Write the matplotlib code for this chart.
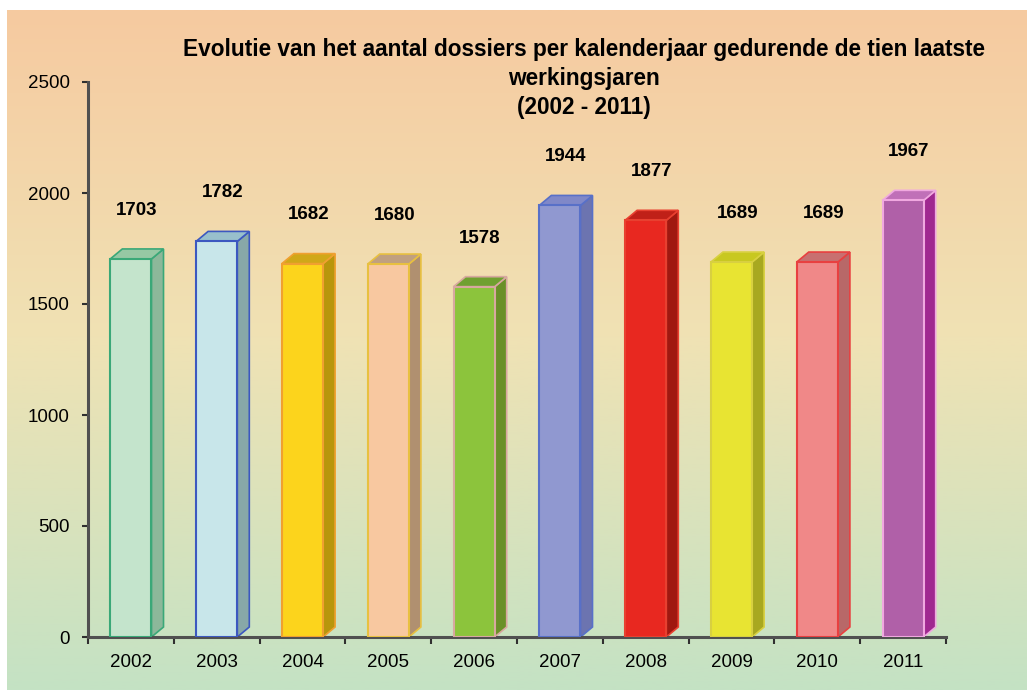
import numpy as np
import matplotlib.pyplot as plt
from matplotlib.patches import Polygon
from matplotlib.colors import LinearSegmentedColormap

plt.rcParams['font.family'] = ['Liberation Sans', 'DejaVu Sans']

# data
years = ['2002', '2003', '2004', '2005', '2006', '2007', '2008', '2009', '2010', '2011']
dossiers = [1703, 1782, 1682, 1680, 1578, 1944, 1877, 1689, 1689, 1967]

title = ('Evolutie van het aantal dossiers per kalenderjaar gedurende de tien laatste\n'
         'werkingsjaren\n(2002 - 2011)')

# colours per bar: front, side, top, edge
front_cols = ['#c4e4cc', '#c8e6ea', '#fcd41c', '#f8c8a0', '#8cc43c',
              '#9098d0', '#e82820', '#e8e432', '#f08888', '#b060a8']
side_cols = ['#8cb89a', '#88a8a8', '#b8960c', '#b09070', '#6a9028',
             '#6c74b0', '#a01810', '#a8a820', '#b86868', '#a02890']
top_cols = ['#96c8a4', '#98c0cc', '#d0a818', '#c0a080', '#70a030',
            '#8088c8', '#c02018', '#c8c820', '#c87070', '#c070b8']
edge_cols = ['#3aa878', '#3c58c0', '#f0a030', '#e8c040', '#d8a8a0',
             '#5870c8', '#e84030', '#d8d040', '#e84040', '#f0a8e0']

fig = plt.figure(figsize=(10.27, 6.9), dpi=100)

# gradient background panel
bg = fig.add_axes([7 / 1027, 0, 1020 / 1027, 680 / 690], zorder=-1)
cmap = LinearSegmentedColormap.from_list(
    'bg', [(0.0, '#c4e2c4'), (0.52, '#f0e2b4'), (1.0, '#f6caa0')])
grad = np.linspace(0, 1, 256).reshape(-1, 1)
bg.imshow(grad, aspect='auto', cmap=cmap, origin='lower', extent=[0, 1, 0, 1])
bg.axis('off')

ax = fig.add_axes([88 / 1027, 53 / 690, 858 / 1027, 555 / 690])
ax.patch.set_alpha(0)

x = np.arange(len(years))
w = 0.48
dx, dy = 0.14, 45

bars = ax.bar(x, dossiers, width=w, color=front_cols, edgecolor=edge_cols,
              linewidth=1.5, zorder=3)
for b, fc, sc, tc, ec in zip(bars, front_cols, side_cols, top_cols, edge_cols):
    l = b.get_x()
    r = l + b.get_width()
    h = b.get_height()
    side = Polygon([(r, 0), (r + dx, dy), (r + dx, h + dy), (r, h)],
                   closed=True, facecolor=sc, edgecolor=ec, linewidth=1.2, zorder=2)
    top = Polygon([(l, h), (r, h), (r + dx, h + dy), (l + dx, h + dy)],
                  closed=True, facecolor=tc, edgecolor=ec, linewidth=1.2, zorder=2)
    ax.add_patch(side)
    ax.add_patch(top)

for xi, v in zip(x, dossiers):
    ax.annotate(str(v), (xi + 0.07, v), xytext=(0, 35), textcoords='offset points',
                ha='center', va='center', fontsize=13.5, fontweight='bold')

ax.set_xlim(-0.5, len(years) - 0.5)
ax.set_ylim(0, 2500)
ax.set_yticks([0, 500, 1000, 1500, 2000, 2500])
ax.set_xticks(x)
ax.set_xticklabels(years)
ax.set_xticks(np.arange(-0.5, len(years)), minor=True)

for s in ['top', 'right']:
    ax.spines[s].set_visible(False)
for s in ['left', 'bottom']:
    ax.spines[s].set_color('#505050')
    ax.spines[s].set_linewidth(2.2)

ax.tick_params(axis='y', labelsize=13.5, length=4, width=1.5, color='#303030', pad=9)
ax.tick_params(axis='x', which='major', labelsize=13.5, length=0, pad=12)
ax.tick_params(axis='x', which='minor', length=5, width=1.5, color='#303030')

fig.text(584 / 1027, 1 - 38 / 690, title, ha='center', va='top', fontsize=16.3,
         fontweight='bold', linespacing=1.32)

fig.savefig('out.png', dpi=100)
